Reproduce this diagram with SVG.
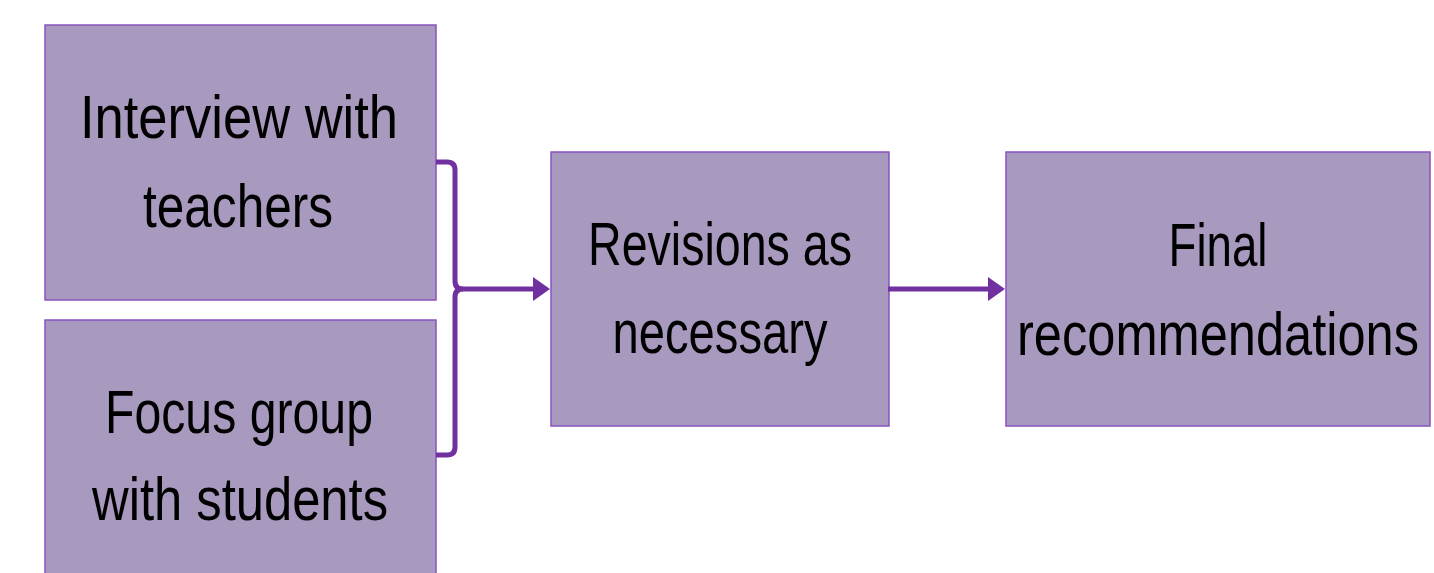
<svg xmlns="http://www.w3.org/2000/svg" width="1434" height="573" viewBox="0 0 1434 573">
<style>
.box{fill:#A899BF;stroke:#8A52C0;stroke-width:1.5}
.lbl{font-family:"Liberation Sans Narrow","Liberation Sans",Arial,sans-serif;font-size:62px;fill:#000;text-anchor:middle}
.con{fill:none;stroke:#7030A0;stroke-width:5;stroke-linejoin:round}
.head{fill:#7030A0}
</style>
<rect width="1434" height="573" fill="#fff"/>
<g id="node-interview">
<rect class="box" x="45" y="25" width="391" height="275"/>
<text class="lbl" x="239" y="138" textLength="318" lengthAdjust="spacingAndGlyphs">Interview with</text>
<text class="lbl" x="238" y="227" textLength="190" lengthAdjust="spacingAndGlyphs">teachers</text>
</g>
<g id="node-focus">
<rect class="box" x="45" y="320" width="391" height="270"/>
<text class="lbl" x="239" y="433" textLength="268" lengthAdjust="spacingAndGlyphs">Focus group</text>
<text class="lbl" x="240" y="520" textLength="296" lengthAdjust="spacingAndGlyphs">with students</text>
</g>
<g id="node-revisions">
<rect class="box" x="551" y="152" width="338" height="274"/>
<text class="lbl" x="720" y="265" textLength="264" lengthAdjust="spacingAndGlyphs">Revisions as</text>
<text class="lbl" x="720" y="353" textLength="215" lengthAdjust="spacingAndGlyphs">necessary</text>
</g>
<g id="node-final">
<rect class="box" x="1006" y="152" width="424" height="274"/>
<text class="lbl" x="1218" y="266" textLength="99" lengthAdjust="spacingAndGlyphs">Final</text>
<text class="lbl" x="1218" y="355" textLength="402" lengthAdjust="spacingAndGlyphs">recommendations</text>
</g>
<g id="connectors">
<path class="con" d="M436,162 H447 Q455,162 455,170 V281 Q455,289 463,289 H536"/>
<path class="con" d="M436,455 H447 Q455,455 455,447 V297 Q455,289 463,289"/>
<polygon class="head" points="533,277 550,289 533,301"/>
<path class="con" d="M888,289 H990"/>
<polygon class="head" points="988,277 1005,289 988,301"/>
</g>
</svg>
